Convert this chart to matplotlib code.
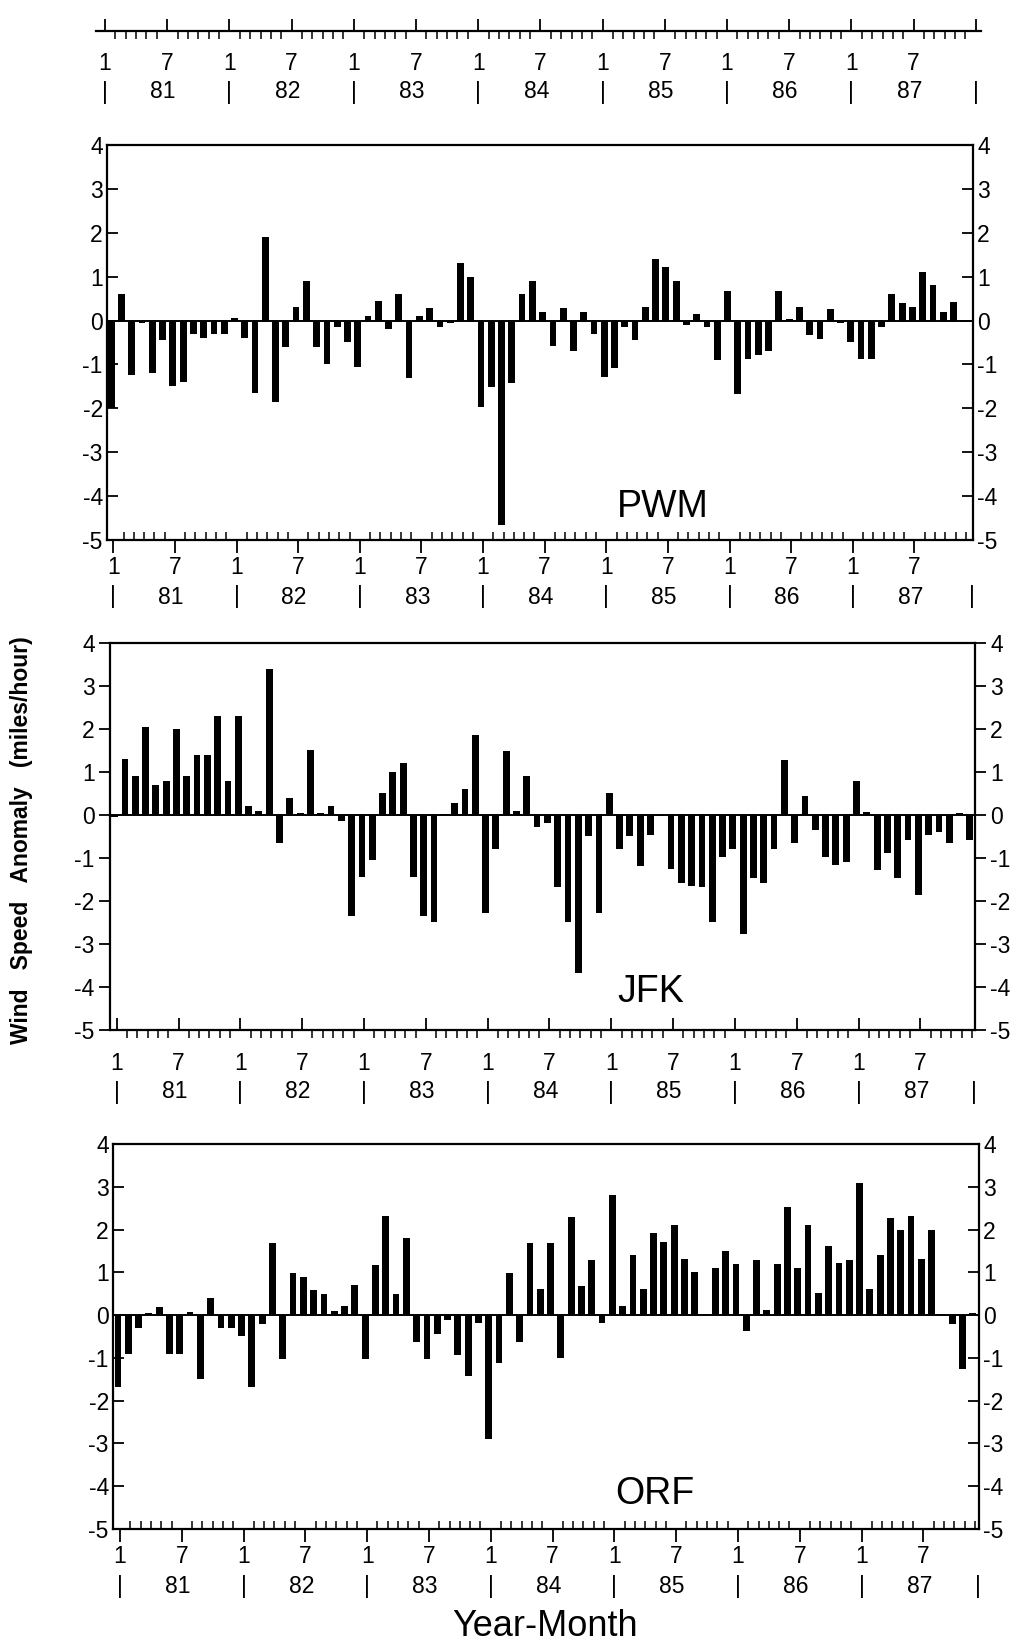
import matplotlib
matplotlib.use('Agg')
import numpy as np
import matplotlib.pyplot as plt
import matplotlib.transforms as mtransforms

plt.rcParams['font.family'] = ['Liberation Sans', 'DejaVu Sans']
plt.rcParams['axes.unicode_minus'] = False

# monthly wind speed anomalies (miles/hour), Jan 1981 - Dec 1987
years = ['81', '82', '83', '84', '85', '86', '87']
months = np.arange(84)

pwm = [-2.0, 0.6, -1.25, -0.05, -1.2, -0.45, -1.5, -1.4, -0.3, -0.4, -0.3, -0.3,
       0.05, -0.4, -1.65, 1.9, -1.85, -0.6, 0.3, 0.9, -0.6, -1.0, -0.15, -0.5,
       -1.05, 0.1, 0.45, -0.2, 0.6, -1.3, 0.1, 0.28, -0.15, -0.05, 1.3, 1.0,
       -1.97, -1.52, -4.66, -1.42, 0.6, 0.89, 0.19, -0.58, 0.28, -0.7, 0.19, -0.3,
       -1.29, -1.08, -0.15, -0.45, 0.3, 1.4, 1.21, 0.9, -0.1, 0.15, -0.15, -0.9,
       0.68, -1.67, -0.87, -0.78, -0.69, 0.68, 0.04, 0.3, -0.34, -0.42, 0.27, -0.05,
       -0.48, -0.87, -0.87, -0.15, 0.6, 0.4, 0.3, 1.1, 0.8, 0.2, 0.43, 0.02]

jfk = [-0.05, 1.3, 0.9, 2.05, 0.7, 0.8, 2.0, 0.9, 1.4, 1.4, 2.3, 0.8,
       2.3, 0.2, 0.1, 3.4, -0.65, 0.4, 0.05, 1.5, 0.05, 0.2, -0.15, -2.35,
       -1.45, -1.05, 0.5, 1.0, 1.2, -1.45, -2.36, -2.48, 0.03, 0.29, 0.6, 1.86,
       -2.27, -0.78, 1.49, 0.1, 0.91, -0.27, -0.18, -1.68, -2.48, -3.67, -0.49, -2.27,
       0.5, -0.78, -0.49, -1.19, -0.47, -0.03, -1.26, -1.57, -1.65, -1.67, -2.48, -0.97,
       -0.78, -2.77, -1.47, -1.57, -0.78, 1.29, -0.64, 0.44, -0.36, -0.97, -1.16, -1.09,
       0.8, 0.08, -1.28, -0.88, -1.47, -0.58, -1.86, -0.47, -0.39, -0.66, 0.05, -0.57]

orf = [-1.69, -0.9, -0.31, 0.04, 0.19, -0.9, -0.91, 0.08, -1.5, 0.39, -0.31, -0.29,
       -0.49, -1.69, -0.21, 1.69, -1.03, 0.99, 0.88, 0.58, 0.49, 0.1, 0.21, 0.7,
       -1.03, 1.18, 2.31, 0.49, 1.8, -0.62, -1.03, -0.43, -0.12, -0.93, -1.42, -0.19,
       -2.9, -1.11, 0.99, -0.62, 1.69, 0.6, 1.69, -1.01, 2.3, 0.68, 1.28, -0.19,
       2.8, 0.21, 1.4, 0.6, 1.91, 1.71, 2.1, 1.32, 1.01, 0.03, 1.09, 1.49,
       1.19, -0.37, 1.3, 0.12, 1.19, 2.53, 1.11, 2.1, 0.52, 1.61, 1.21, 1.3,
       3.09, 0.6, 1.4, 2.28, 2.0, 2.31, 1.32, 2.0, 0.03, -0.21, -1.27, 0.05]

W, H = 1031, 1644
fig = plt.figure(figsize=(W / 100, H / 100), dpi=100)
fig.patch.set_facecolor('white')

LABEL_SIZE = 16.5


def px_axes(left, top, right, bottom):
    return fig.add_axes([left / W, 1 - bottom / H, (right - left) / W, (bottom - top) / H])


def month_labels(ax, row1, row2, end):
    tr1 = mtransforms.offset_copy(ax.get_xaxis_transform(), fig=fig, y=-row1, units='dots')
    tr2 = mtransforms.offset_copy(ax.get_xaxis_transform(), fig=fig, y=-row2, units='dots')
    for i in range(0, 84, 6):
        ax.text(i, 0, '1' if i % 12 == 0 else '7', transform=tr1,
                ha='center', va='center', fontsize=LABEL_SIZE)
    for k, yr in enumerate(years):
        ax.text(12 * k, 0, '|', transform=tr2, ha='center', va='center', fontsize=LABEL_SIZE)
        ax.text(12 * k + 5.6, 0, yr, transform=tr2, ha='center', va='center', fontsize=LABEL_SIZE)
    ax.text(end, 0, '|', transform=tr2, ha='center', va='center', fontsize=LABEL_SIZE)


# ~~~~~~~~~~ top month strip ~~~~~~~~~~
ax0 = px_axes(96, 15, 981, 31)
ax0.set_xlim(-0.87, 84.5)
ax0.set_ylim(0, 1)
ax0.patch.set_visible(False)
for s in ['left', 'right', 'top']:
    ax0.spines[s].set_visible(False)
ax0.spines['bottom'].set_linewidth(1.6)
ax0.set_yticks([])
ax0.set_xticks(list(range(0, 84, 6)) + [84])
ax0.set_xticks(range(84), minor=True)
ax0.tick_params(axis='x', which='major', direction='in', length=9, width=1.3, labelbottom=False)
ax0.tick_params(axis='x', which='minor', direction='out', length=6, width=1.1)
month_labels(ax0, 32, 61, 84)

# ~~~~~~~~~~ station panels ~~~~~~~~~~
panels = [
    # name, values, pixel box, xlim, tick dirs (y, x major, x minor), label rows, name pos
    ('PWM', pwm, (107, 145, 973, 540), (-0.61, 83.7), ('in', 'out', 'in'), (27, 57), (53.5, -4.24)),
    ('JFK', jfk, (110, 643, 975, 1030), (-0.65, 83.3), ('out', 'in', 'out'), (33, 62), (51.8, -4.12)),
    ('ORF', orf, (113, 1144, 979, 1529), (-0.68, 83.4), ('in', 'out', 'in'), (27, 57), (51.9, -4.18)),
]

for name, vals, box, xlim, dirs, rows, lab in panels:
    ax = px_axes(*box)
    ax.bar(months - 0.2, vals, width=0.66, color='black', linewidth=0)
    ax.axhline(0, color='black', lw=1.4)
    ax.set_xlim(*xlim)
    ax.set_ylim(-5, 4)
    for s in ax.spines.values():
        s.set_linewidth(1.6)
    ax.set_yticks(range(-5, 5))
    ax.tick_params(axis='y', which='major', left=True, right=True, labelleft=True,
                   labelright=True, direction=dirs[0], length=8, width=1.3,
                   labelsize=LABEL_SIZE, pad=3)
    ax.set_xticks(range(0, 84, 6))
    ax.set_xticks(range(84), minor=True)
    ax.tick_params(axis='x', which='major', direction=dirs[1], length=9, width=1.3,
                   labelbottom=False)
    ax.tick_params(axis='x', which='minor', direction=dirs[2], length=6, width=1.1)
    month_labels(ax, rows[0], rows[1], xlim[1] - 0.15)
    ax.text(lab[0], lab[1], name, fontsize=27, ha='center', va='center')

fig.text(22 / W, 1 - 840 / H, 'Wind   Speed   Anomaly   (miles/hour)', rotation=90,
         ha='center', va='center', fontsize=16.5, fontweight='bold')
fig.text(545 / W, 1 - 1626 / H, 'Year-Month', ha='center', va='center', fontsize=26)

fig.savefig('out.png', dpi=100)
